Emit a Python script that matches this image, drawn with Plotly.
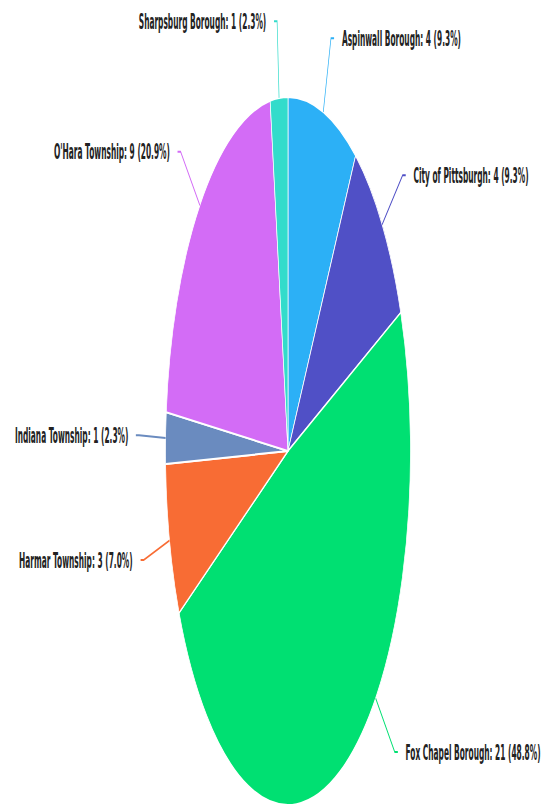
import numpy as np
import plotly.graph_objects as go

municipios = ['Aspinwall Borough', 'City of Pittsburgh', 'Fox Chapel Borough', 'Harmar Township',
              'Indiana Township', "O'Hara Township", 'Sharpsburg Borough']
contagens = [4, 4, 21, 3, 1, 9, 1]
cores = ['#2cb0f6', '#5050c6', '#00e072', '#f86c34', '#6a8bbf', '#d36cf6', '#33dccb']

# the reference is a round pie squeezed sideways: build it wide, then squeeze the page
escala = 0.346
altura = 807
largura = round(542 / escala)
cx, cy, raio = 288 / escala, 451, 354

total = sum(contagens)

fig = go.Figure(go.Pie(
    labels=municipios, values=contagens, sort=False,
    direction='clockwise', rotation=0,
    marker=dict(colors=cores, line=dict(color='white', width=2)),
    textinfo='none', hoverinfo='label+value+percent', showlegend=False,
    domain=dict(x=[(cx - raio) / largura, (cx + raio) / largura],
                y=[1 - (cy + raio) / altura, 1 - (cy - raio) / altura]),
))


def papel(x, y):
    return x / largura, 1 - y / altura


acumulado = np.cumsum([0] + contagens)
r1 = raio + 77
for i, (nome, v) in enumerate(zip(municipios, contagens)):
    ang = (acumulado[i] + v / 2) / total * 2 * np.pi
    # labels that would fall off the bottom are pulled up, like echarts does
    if cy - r1 * np.cos(ang) > 752:
        ang = np.arccos((cy - 752) / r1) * np.sign(np.sin(ang))
    dx, dy = np.sin(ang), -np.cos(ang)
    lado = 1 if dx >= 0 else -1
    x0, y0 = papel(cx + raio * dx, cy + raio * dy)
    x1, y1 = papel(cx + r1 * dx, cy + r1 * dy)
    x2, _ = papel(cx + r1 * dx + lado * 9, 0)
    xt, _ = papel(cx + r1 * dx + lado * 29, 0)
    fig.add_shape(type='path', xref='paper', yref='paper',
                  path=f'M {x0} {y0} L {x1} {y1} L {x2} {y1}',
                  line=dict(color=cores[i], width=2))
    fig.add_annotation(x=xt, y=y1, xref='paper', yref='paper', showarrow=False,
                       text=f'{nome}: {v} ({v / total * 100:.1f}%)',
                       xanchor='left' if lado > 0 else 'right', yanchor='middle',
                       font=dict(family='DejaVu Sans', size=21.5, weight='bold', color='#222'))

fig.update_layout(width=largura, height=altura, margin=dict(l=0, r=0, t=0, b=0),
                  paper_bgcolor='white', plot_bgcolor='white', showlegend=False)

js = """
document.body.style.margin = '0';
document.body.style.overflow = 'hidden';
var gd = document.getElementById('{plot_id}');
gd.style.transformOrigin = '0 0';
gd.style.transform = 'scaleX(%s)';
""" % escala

fig.write_html('out.html', post_script=js, config={'displayModeBar': False})
